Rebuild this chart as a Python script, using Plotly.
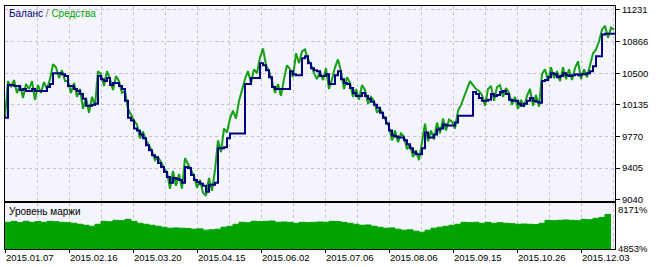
import numpy as np
import plotly.graph_objects as go

dates = ["2015.01.07", "2015.02.16", "2015.03.20", "2015.04.15", "2015.06.02",
         "2015.07.06", "2015.08.06", "2015.09.15", "2015.10.26", "2015.12.03"]
price_ticks = [9040, 9405, 9770, 10135, 10500, 10866, 11231]
margin_ticks = [4853, 8171]

balance = [
    9987, 10364, 10364, 10352, 10352, 10307, 10318, 10295, 10295, 10318,
    10295, 10295, 10295, 10295, 10341, 10375, 10501, 10501, 10501, 10489,
    10467, 10352, 10352, 10318, 10295, 10261, 10204, 10124, 10124, 10135,
    10147, 10467, 10432, 10409, 10444, 10364, 10387, 10387, 10352, 10318,
    10181, 9987, 9953, 9862, 9839, 9793, 9748, 9668, 9611, 9554,
    9531, 9462, 9417, 9360, 9303, 9234, 9291, 9280, 9268, 9234,
    9417, 9405, 9325, 9268, 9245, 9223, 9200, 9131, 9211, 9211,
    9234, 9633, 9633, 9645, 9748, 9805, 9805, 9805, 9805, 9805,
    10375, 10375, 10444, 10444, 10444, 10615, 10592, 10535, 10455, 10341,
    10318, 10318, 10318, 10318, 10318, 10524, 10489, 10478, 10478, 10672,
    10695, 10615, 10558, 10535, 10524, 10467, 10467, 10489, 10375, 10375,
    10478, 10524, 10432, 10387, 10375, 10330, 10272, 10238, 10238, 10272,
    10238, 10204, 10170, 10135, 10101, 10044, 9987, 9919, 9839, 9782,
    9770, 9759, 9759, 9725, 9679, 9633, 9588, 9565, 9565, 9633,
    9816, 9759, 9759, 9793, 9850, 9862, 9907, 9896, 9896, 9896,
    9930, 10010, 10010, 10010, 10010, 10010, 10284, 10261, 10215, 10181,
    10181, 10193, 10261, 10238, 10250, 10284, 10295, 10261, 10193, 10181,
    10181, 10147, 10124, 10147, 10181, 10215, 10181, 10170, 10158, 10409,
    10421, 10455, 10501, 10489, 10455, 10467, 10501, 10478, 10467, 10478,
    10489, 10478, 10489, 10489, 10501, 10524, 10581, 10695, 10695, 10946,
    10957, 10957, 10957, 10969,
]

equity = [
    9987, 10409, 10341, 10421, 10272, 10364, 10215, 10375, 10318, 10409,
    10193, 10364, 10272, 10398, 10318, 10432, 10603, 10569, 10444, 10535,
    10409, 10409, 10272, 10387, 10227, 10318, 10090, 10215, 10044, 10227,
    10124, 10524, 10489, 10352, 10524, 10432, 10307, 10467, 10409, 10272,
    10295, 10090, 10021, 9953, 9907, 9748, 9827, 9725, 9668, 9599,
    9496, 9531, 9474, 9405, 9360, 9166, 9371, 9200, 9337, 9166,
    9519, 9451, 9382, 9314, 9177, 9268, 9120, 9086, 9291, 9143,
    9382, 9725, 9588, 9862, 9816, 9976, 10067, 9976, 10181, 10318,
    10432, 10524, 10387, 10546, 10501, 10683, 10786, 10592, 10524, 10409,
    10272, 10375, 10238, 10432, 10592, 10546, 10455, 10729, 10615, 10752,
    10775, 10660, 10603, 10501, 10432, 10524, 10421, 10558, 10318, 10432,
    10569, 10660, 10524, 10318, 10455, 10387, 10227, 10318, 10193, 10364,
    10307, 10147, 10227, 10181, 10044, 10090, 10021, 9964, 9884, 9725,
    9839, 9702, 9805, 9770, 9622, 9679, 9531, 9611, 9496, 9702,
    9919, 9713, 9839, 9736, 9930, 9805, 9976, 9839, 9964, 9941,
    9862, 10067, 10135, 10227, 10318, 10409, 10364, 10318, 10295, 10250,
    10124, 10318, 10352, 10181, 10341, 10364, 10227, 10330, 10272, 10135,
    10227, 10090, 10193, 10113, 10238, 10318, 10124, 10250, 10113, 10489,
    10546, 10409, 10569, 10444, 10524, 10409, 10569, 10432, 10546, 10421,
    10558, 10638, 10432, 10546, 10455, 10592, 10729, 10775, 10866, 11003,
    11048, 10911, 11026, 11003,
]

margin = [
    7093, 7176, 7060, 7176, 7093, 7150, 7093, 7176, 7140, 7093,
    7060, 7010, 6927, 6844, 6761, 6927, 7176, 7140, 7259, 7230,
    7342, 7176, 7010, 6927, 6844, 6761, 6678, 6595, 6620, 6595,
    6570, 6512, 6540, 6429, 6460, 6512, 6678, 6761, 6927, 7093,
    7060, 7176, 7150, 7176, 7200, 7093, 7120, 7093, 7010, 7093,
    7060, 7093, 7120, 7093, 7176, 7150, 7093, 7010, 6927, 6844,
    6870, 6761, 6678, 6595, 6620, 6512, 6429, 6460, 6346, 6263,
    6429, 6595, 6678, 6761, 6844, 6927, 7093, 7060, 7093, 7010,
    7093, 7010, 7060, 7010, 6980, 6927, 6950, 6927, 6900, 7010,
    7259, 7230, 7259, 7290, 7259, 7230, 7342, 7310, 7425, 7507,
    7756, 7756,
]

x = np.arange(len(balance))
xm = np.arange(len(margin)) * 2
span = 610 / 3
major = 64 / 3
tickvals = [i * major for i in range(len(dates))]

grid = dict(showgrid=True, gridcolor="#C4C4CC", gridwidth=1, griddash="3px,3px")
tfont = dict(family="Liberation Sans", size=9.5, color="black")
green = "#14A014"
fillg = "#00A300"
navy = "#000080"

fig = go.Figure()
fig.add_trace(go.Scatter(x=x, y=equity, xaxis="x2", yaxis="y", mode="lines",
                         line=dict(color=green, width=2), hoverinfo="skip"))
fig.add_trace(go.Scatter(x=x, y=balance, xaxis="x2", yaxis="y", mode="lines",
                         line=dict(color=navy, width=2, shape="hv"), hoverinfo="skip"))
fig.add_trace(go.Scatter(x=xm, y=margin, xaxis="x", yaxis="y2", mode="lines",
                         fill="tozeroy", fillcolor=fillg,
                         line=dict(color=fillg, width=1, shape="hv"), hoverinfo="skip"))

fig.update_layout(
    width=663, height=267,
    margin=dict(l=5, r=48, t=4, b=17),
    paper_bgcolor="white", plot_bgcolor="#F4F4FC",
    showlegend=False,
    xaxis=dict(domain=[0, 1], anchor="y2", range=[0, span],
               tickmode="array", tickvals=tickvals, ticktext=dates,
               ticks="outside", ticklen=3, tickcolor="black",
               ticklabelposition="outside right", tickfont=tfont,
               showline=True, linecolor="black", linewidth=1, mirror=True,
               zeroline=False,
               minor=dict(tickmode="linear", tick0=0, dtick=major / 2, ticks="",
                          showgrid=True, gridcolor="#C4C4CC", griddash="3px,3px"),
               **grid),
    xaxis2=dict(domain=[0, 1], anchor="y", range=[0, span], matches="x",
                tickmode="linear", tick0=0, dtick=major / 2,
                showticklabels=False, ticks="",
                showline=True, linecolor="black", linewidth=1, mirror=True,
                zeroline=False, **grid),
    yaxis=dict(domain=[0.199, 1], anchor="x2", side="right",
               range=[9028.6, 11276.6],
               tickmode="array", tickvals=price_ticks,
               ticktext=[str(v) for v in price_ticks],
               ticks="outside", ticklen=4, tickcolor="black", tickfont=tfont,
               showline=True, linecolor="black", linewidth=1, mirror=True,
               zeroline=False, **grid),
    yaxis2=dict(domain=[0, 0.191], anchor="x", side="right",
                range=[4845, 8752],
                tickmode="array", tickvals=margin_ticks,
                ticktext=[f"{v}%" for v in margin_ticks],
                ticks="", tickfont=tfont, showgrid=False,
                showline=True, linecolor="black", linewidth=1, mirror=True,
                zeroline=False),
    annotations=[
        dict(xref="paper", yref="paper", x=2 / 610, y=(250 - 12) / 246,
             xanchor="left", yanchor="middle", showarrow=False,
             text=f"<span style='color:{navy}'>Баланс</span>"
                  f"<span style='color:#808080'> / </span>"
                  f"<span style='color:{fillg}'>Средства</span>",
             font=dict(family="Liberation Sans", size=10)),
        dict(xref="paper", yref="paper", x=2 / 610, y=(250 - 212) / 246,
             xanchor="left", yanchor="middle", showarrow=False,
             text="Уровень маржи",
             font=dict(family="Liberation Sans", size=10, color="black")),
    ],
)

fig.write_html("out.html")
